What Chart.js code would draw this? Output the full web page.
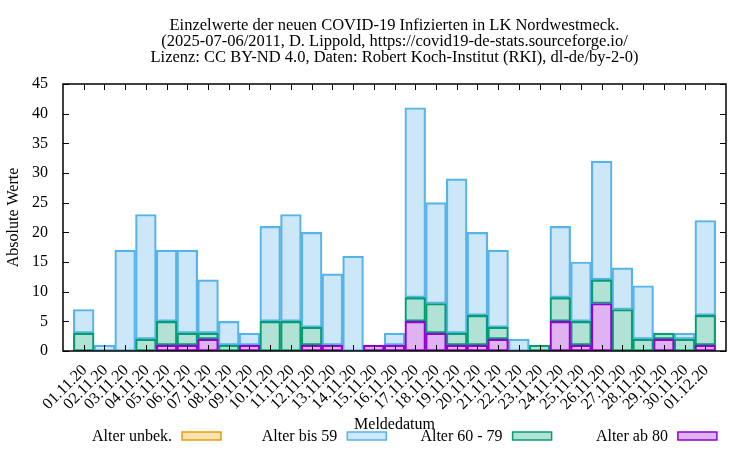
<!DOCTYPE html>
<html lang="de">
<head>
    <meta charset="UTF-8">
    <title>COVID-19 LK Nordwestmeck.</title>
    <script src="https://cdn.jsdelivr.net/npm/chart.js@4.4.0/dist/chart.umd.min.js"></script>
    <style>
        html, body {margin: 0; padding: 0; background: #fff;}
        #wrap {width: 750px; height: 450px;}
    </style>
</head>
<body>
<div id="wrap"><canvas id="chart" width="750" height="450"></canvas></div>
<script>
    const days = ['01.11.20', '02.11.20', '03.11.20', '04.11.20', '05.11.20', '06.11.20', '07.11.20', '08.11.20',
        '09.11.20', '10.11.20', '11.11.20', '12.11.20', '13.11.20', '14.11.20', '15.11.20', '16.11.20',
        '17.11.20', '18.11.20', '19.11.20', '20.11.20', '21.11.20', '22.11.20', '23.11.20', '24.11.20',
        '25.11.20', '26.11.20', '27.11.20', '28.11.20', '29.11.20', '30.11.20', '01.12.20'];
    const unbek = [0, 0, 0, 0, 0, 0, 0, 0, 0, 0, 0, 0, 0, 0, 0, 0, 0, 0, 0, 0, 0, 0, 0, 0, 0, 0, 0, 0, 0, 0, 0];
    const bis59 = [4, 1, 17, 21, 12, 14, 9, 4, 2, 16, 18, 16, 12, 16, 0, 2, 32, 17, 26, 14, 13, 2, 0, 12, 10, 20, 7, 9, 0, 1, 16];
    const von60 = [3, 0, 0, 2, 4, 2, 1, 1, 0, 5, 5, 3, 0, 0, 0, 0, 4, 5, 2, 5, 2, 0, 1, 4, 4, 4, 7, 2, 1, 2, 5];
    const ab80 = [0, 0, 0, 0, 1, 1, 2, 0, 1, 0, 0, 1, 1, 0, 1, 1, 5, 3, 1, 1, 2, 0, 0, 5, 1, 8, 0, 0, 2, 0, 1];
    const yTicks = [0, 5, 10, 15, 20, 25, 30, 35, 40, 45];
    const titleLines = [
        'Einzelwerte der neuen COVID-19 Infizierten in LK Nordwestmeck.',
        '(2025-07-06/2011, D. Lippold, https://covid19-de-stats.sourceforge.io/',
        'Lizenz: CC BY-ND 4.0, Daten: Robert Koch-Institut (RKI), dl-de/by-2-0)'
    ];

    const serif = '"Liberation Serif", "Times New Roman", serif';

    function pts(arr) {
        return arr.map((v, i) => ({x: i, y: v === 0 ? null : v}));
    }

    function bar(label, arr, line, fill) {
        return {
            label: label,
            data: pts(arr),
            backgroundColor: fill,
            borderColor: line,
            borderWidth: 1.5,
            borderSkipped: false,
            barPercentage: 1,
            categoryPercentage: 1
        };
    }

    // stacking order: bottom first
    const datasets = [
        bar('Alter ab 80', ab80, '#9400d3', 'rgba(148,0,211,0.3)'),
        bar('Alter 60 - 79', von60, '#009e73', 'rgba(0,158,115,0.3)'),
        bar('Alter bis 59', bis59, '#56b4e9', 'rgba(86,180,233,0.3)'),
        bar('Alter unbek.', unbek, '#e69f00', 'rgba(230,159,0,0.3)')
    ];

    const decor = {
        id: 'decor',
        afterDraw(chart) {
            const {ctx, chartArea: a, scales: {x, y}} = chart;
            ctx.save();
            ctx.strokeStyle = '#000';
            ctx.lineWidth = 1;
            ctx.beginPath();
            yTicks.forEach(v => {
                const py = Math.round(y.getPixelForValue(v)) + 0.5;
                ctx.moveTo(a.left, py); ctx.lineTo(a.left + 6, py);
                ctx.moveTo(a.right, py); ctx.lineTo(a.right - 6, py);
            });
            days.forEach((d, i) => {
                const px = Math.round(x.getPixelForValue(i)) + 0.5;
                ctx.moveTo(px, a.bottom); ctx.lineTo(px, a.bottom - 6);
                ctx.moveTo(px, a.top); ctx.lineTo(px, a.top + 6);
            });
            ctx.stroke();
            ctx.lineWidth = 1.5;
            ctx.strokeRect(a.left, a.top, a.right - a.left, a.bottom - a.top);

            // title
            ctx.fillStyle = '#000';
            ctx.font = '16.5px ' + serif;
            ctx.textAlign = 'center';
            ctx.textBaseline = 'middle';
            const cx = (a.left + a.right) / 2;
            titleLines.forEach((t, i) => ctx.fillText(t, cx, 26 + i * 16));

            // legend (text left of sample box, as gnuplot does)
            ctx.font = '16px ' + serif;
            const items = datasets.slice().reverse();
            ctx.textAlign = 'right';
            items.forEach((ds, i) => {
                const tx = 172 + i * 165.3;
                ctx.fillText(ds.label, tx, 437);
                ctx.fillStyle = ds.backgroundColor;
                ctx.fillRect(tx + 10, 432, 39, 8);
                ctx.strokeStyle = ds.borderColor;
                ctx.lineWidth = 1.5;
                ctx.strokeRect(tx + 10, 432, 39, 8);
                ctx.fillStyle = '#000';
            });
            ctx.restore();
        }
    };

    new Chart(document.getElementById('chart'), {
        type: 'bar',
        data: {datasets: datasets},
        options: {
            responsive: false,
            animation: false,
            devicePixelRatio: 1,
            layout: {padding: {top: 84, right: 24, bottom: 16, left: 0}},
            plugins: {
                legend: {display: false},
                title: {display: false},
                tooltip: {enabled: false}
            },
            scales: {
                x: {
                    type: 'linear',
                    stacked: true,
                    offset: false,
                    min: -1,
                    max: 31,
                    grid: {display: false},
                    border: {display: false},
                    afterFit(scale) { scale.height = 83; },
                    afterBuildTicks(scale) {
                        scale.ticks = days.map((d, i) => ({value: i}));
                    },
                    ticks: {
                        autoSkip: false,
                        minRotation: 45,
                        maxRotation: 45,
                        padding: 2,
                        labelOffset: 1,
                        color: '#000',
                        font: {family: serif, size: 16},
                        callback: v => days[v] || ''
                    },
                    title: {
                        display: true,
                        text: 'Meldedatum',
                        color: '#000',
                        font: {family: serif, size: 16},
                        padding: {top: 0, bottom: 0}
                    }
                },
                y: {
                    stacked: true,
                    min: 0,
                    max: 45,
                    grid: {display: false},
                    border: {display: false},
                    afterFit(scale) { scale.width = 63; },
                    ticks: {
                        stepSize: 5,
                        padding: 7,
                        color: '#000',
                        font: {family: serif, size: 16}
                    },
                    title: {
                        display: true,
                        text: 'Absolute Werte',
                        color: '#000',
                        font: {family: serif, size: 16},
                        padding: {top: 4, bottom: 0}
                    }
                }
            }
        },
        plugins: [decor]
    });
</script>
</body>
</html>
